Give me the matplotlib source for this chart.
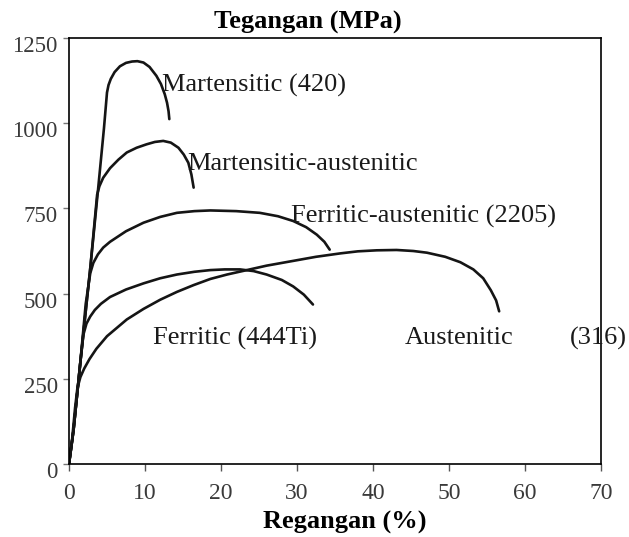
import matplotlib
matplotlib.use("Agg")
import matplotlib.pyplot as plt
import matplotlib.transforms as mtransforms

plt.rcParams['font.family'] = ['Liberation Serif', 'DejaVu Serif']

# regangan (%) / tegangan (MPa)
mart_x = [0, 0.6, 1.5, 2.8, 3.8, 4.6, 5.0, 5.2, 5.5, 6.0, 6.7, 7.5, 8.3, 9.0, 9.8, 10.6, 11.5, 12.1, 12.6, 12.9, 13.1, 13.2]
mart_y = [0, 100, 300, 575, 800, 985, 1090, 1112, 1130, 1150, 1167, 1177, 1181, 1182, 1178, 1165, 1139, 1115, 1085, 1060, 1035, 1012]

ma_x = [0, 0.6, 1.5, 2.8, 3.7, 4.0, 4.5, 5.4, 6.5, 7.6, 8.9, 10.2, 11.3, 12.4, 13.4, 14.4, 15.1, 15.7, 16.1, 16.4]
ma_y = [0, 100, 300, 575, 790, 815, 840, 868, 893, 914, 928, 938, 945, 948, 943, 928, 908, 884, 850, 811]

fa_x = [0, 0.6, 1.5, 2.2, 2.8, 3.2, 3.8, 4.5, 5.4, 7.5, 9.8, 12.0, 14.2, 16.5, 18.6, 22.0, 25.1, 27.5, 29.5, 31.2, 32.6, 33.6, 34.3]
fa_y = [0, 100, 300, 470, 560, 590, 615, 635, 652, 683, 708, 725, 737, 742, 744, 742, 737, 727, 713, 695, 673, 652, 629]

fer_x = [0, 0.6, 1.5, 1.9, 2.3, 2.8, 3.4, 4.2, 5.4, 7.5, 9.8, 12.0, 14.2, 16.5, 18.6, 20.5, 22.5, 24.3, 26.0, 28.0, 29.5, 30.9, 32.1]
fer_y = [0, 100, 300, 380, 412, 433, 452, 470, 490, 512, 530, 545, 556, 564, 569, 571, 571, 566, 556, 540, 521, 497, 468]

aus_x = [0, 0.4, 0.8, 1.1, 1.5, 2.0, 2.7, 3.6, 5.0, 7.6, 9.8, 12.0, 14.2, 16.4, 18.6, 20.8, 23.0, 26.0, 29.5, 32.5, 35.7, 38.0, 40.5, 43.1, 45.3, 47.1, 49.5, 51.5, 53.2, 54.5, 55.5, 56.2, 56.6]
aus_y = [0, 70, 165, 222, 255, 280, 308, 338, 375, 424, 455, 482, 505, 525, 543, 556, 567, 582, 596, 608, 618, 624, 627, 628, 625, 620, 608, 592, 571, 545, 510, 480, 448]

xticks = [0, 10, 20, 30, 40, 50, 60, 70]
yticks = [0, 250, 500, 750, 1000, 1250]

fig = plt.figure(figsize=(6.29, 5.37), dpi=100)
ax = fig.add_axes([69/629, (537-464)/537, (601-69)/629, (464-38)/537])

for xs, ys in [(mart_x, mart_y), (ma_x, ma_y), (fa_x, fa_y), (fer_x, fer_y), (aus_x, aus_y)]:
    ax.plot(xs, ys, color='#151515', lw=1.9, solid_capstyle='round', solid_joinstyle='round')

ax.set_xlim(0, 70)
ax.set_ylim(0, 1250)
ax.set_xticks(xticks)
ax.set_yticks(yticks)
for s in ax.spines.values():
    s.set_color('black')
    s.set_linewidth(1.2)
ax.tick_params(axis='x', direction='out', length=5, width=1, color='#555555',
               labelsize=17, labelcolor='#3a3a3a', pad=9)
ax.tick_params(axis='y', direction='out', length=4, width=1, color='#777777',
               labelsize=16.5, labelcolor='#3a3a3a', pad=4)
# tick labels sit a bit below their ticks in the original
off = mtransforms.ScaledTranslation(0, -6/100, fig.dpi_scale_trans)
for lab in ax.get_yticklabels():
    lab.set_transform(lab.get_transform() + off)

fs = 19
lbls = [("Martensitic (420)", 162, 85), ("Martensitic-austenitic", 187, 164),
        ("Ferritic-austenitic (2205)", 291, 216), ("Ferritic (444Ti)", 153, 338),
        ("Austenitic", 405, 338), ("(316)", 570, 338)]
for t, px, py in lbls:
    fig.text(px/629, 1 - py/537, t, fontsize=fs, va='center', ha='left', color='#1a1a1a', zorder=1)

fig.text(308/629, 1 - 22/537, "Tegangan (MPa)", fontsize=19, fontweight='bold', ha='center', va='center')
fig.text(345/629, 1 - 522/537, "Regangan (%)", fontsize=19, fontweight='bold', ha='center', va='center')

fig.savefig("out.png", dpi=100)
